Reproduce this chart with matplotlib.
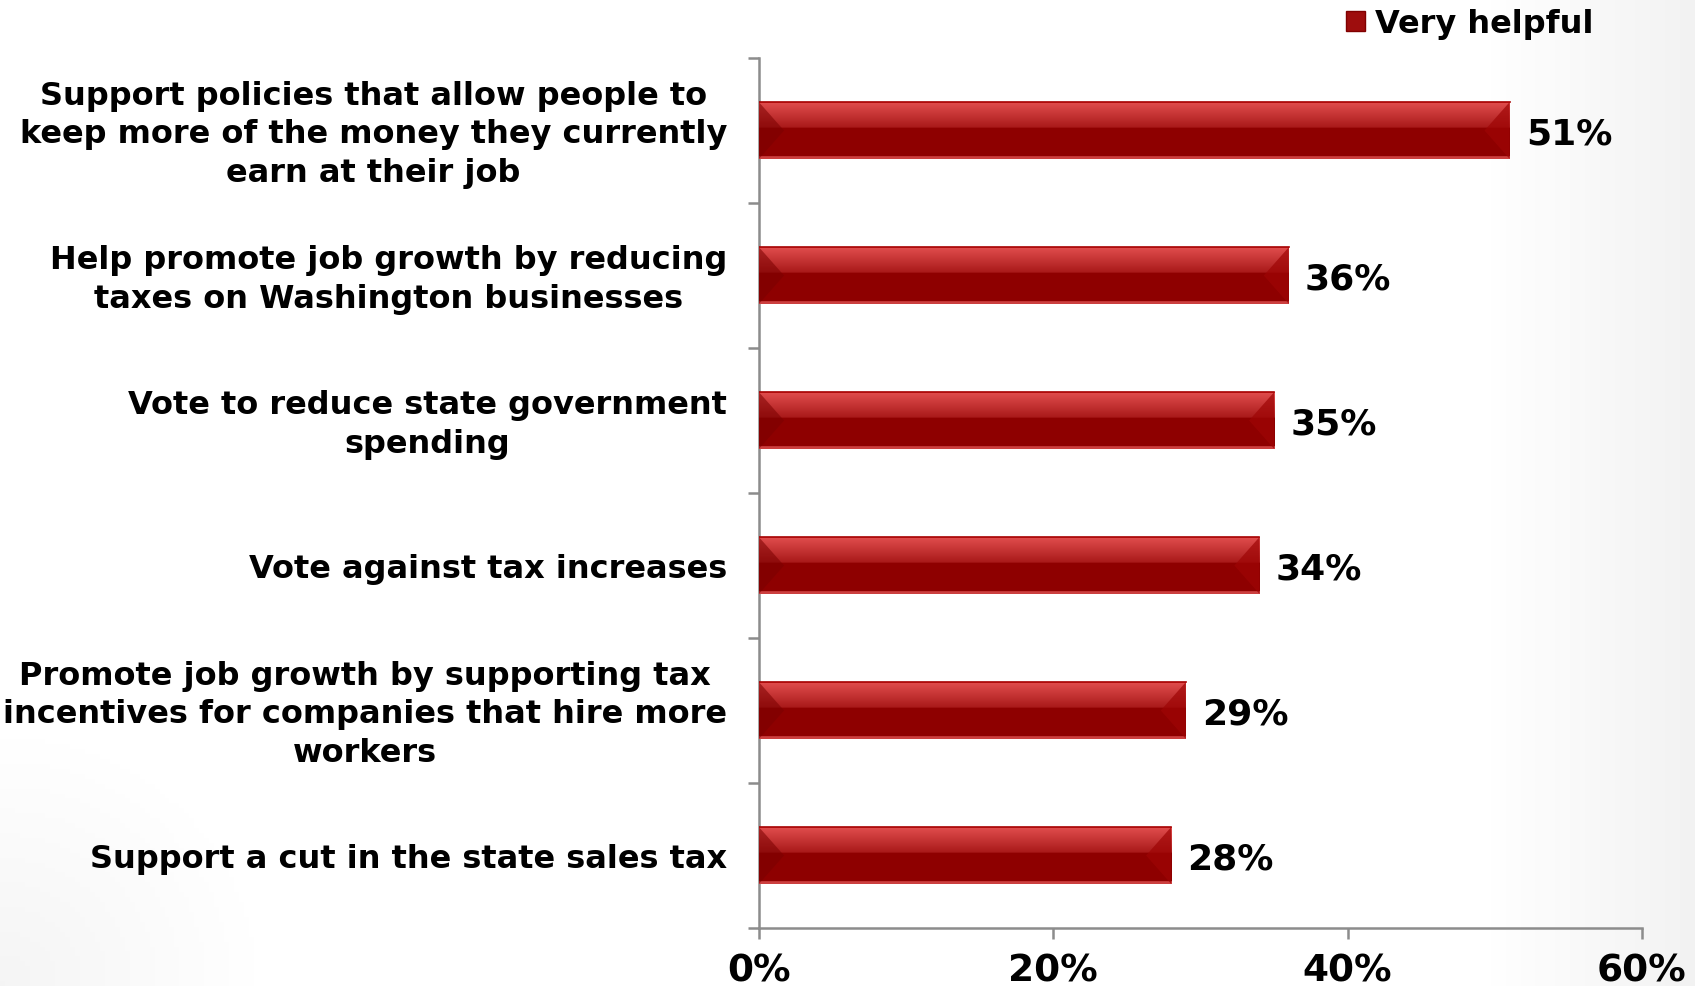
import numpy as np
import matplotlib
matplotlib.use("Agg")
import matplotlib.pyplot as plt
from matplotlib.patches import Polygon, Patch
from matplotlib.ticker import FixedLocator

# データ
categories = [
    "Support policies that allow people to\nkeep more of the money they currently\nearn at their job",
    "Help promote job growth by reducing\ntaxes on Washington businesses",
    "Vote to reduce state government\nspending",
    "Vote against tax increases",
    "Promote job growth by supporting tax\nincentives for companies that hire more\nworkers",
    "Support a cut in the state sales tax",
]
values = [51, 36, 35, 34, 29, 28]
series_name = "Very helpful"
x_ticks = [0, 20, 40, 60]

plt.rcParams["font.family"] = ["DejaVu Sans"]

W, H, DPI = 1695, 987, 100
fig = plt.figure(figsize=(W / DPI, H / DPI), dpi=DPI)

# 背景のうっすらしたグラデーション
bg = fig.add_axes([0, 0, 1, 1], zorder=-10)
yy, xx = np.mgrid[0:1:200j, 0:1:340j]
shade = np.clip((xx - 0.88) / 0.12, 0, 1) * 0.05
corner = np.clip(1 - np.hypot(xx / 0.15, (1 - yy) / 0.25), 0, 1) * 0.04
g = 1 - np.maximum(shade, corner)
bg.imshow(np.dstack([g, g, g]), extent=[0, 1, 0, 1], aspect="auto", origin="upper")
bg.axis("off")

ax = fig.add_axes([0.4478, 0.0588, 0.5209, 0.8814])
ax.patch.set_alpha(0)

n = len(values)
ypos = np.arange(n)
bar_h = 0.39

# バー本体（グラデーション）
top_col = np.array([0.88, 0.30, 0.30])
mid_col = np.array([0.66, 0.10, 0.10])
base_col = np.array([0.56, 0.0, 0.0])
bot_col = np.array([0.80, 0.25, 0.25])
rows = 60
grad = np.zeros((rows, 1, 3))
for i in range(rows):
    t = i / (rows - 1)
    if t < 0.45:
        c = top_col + (mid_col - top_col) * (t / 0.45)
    elif t < 0.95:
        c = base_col
    else:
        c = bot_col
    grad[i, 0] = c

bevel = 1.7
for y, v in zip(ypos, values):
    ax.imshow(grad, extent=[0, v, y + bar_h / 2, y - bar_h / 2],
              aspect="auto", origin="upper", zorder=3, interpolation="bilinear")
    # 左右の面取り
    ax.add_patch(Polygon([[0, y - bar_h / 2], [bevel, y], [0, y + bar_h / 2]],
                         closed=True, color=(0.48, 0.0, 0.0), alpha=0.55, lw=0, zorder=4))
    ax.add_patch(Polygon([[v, y - bar_h / 2], [v - bevel, y], [v, y + bar_h / 2]],
                         closed=True, color=(0.62, 0.02, 0.02), alpha=0.7, lw=0, zorder=4))
    ax.plot([0, v], [y - bar_h / 2, y - bar_h / 2], color=(0.65, 0.0, 0.0), lw=1.2, zorder=5)
    ax.text(v + 1.1, y + 0.02, f"{v}%", va="center", ha="left",
            fontsize=26, fontweight="bold", color="black", zorder=6)

ax.set_xlim(0, 60)
ax.set_ylim(n - 0.5, -0.5)

for s in ["top", "right"]:
    ax.spines[s].set_visible(False)
for s in ["left", "bottom"]:
    ax.spines[s].set_color("#8c8c8c")
    ax.spines[s].set_linewidth(1.8)

ax.set_xticks(x_ticks)
ax.set_xticklabels([f"{t}%" for t in x_ticks], fontsize=27, fontweight="bold")
ax.tick_params(axis="x", length=8, width=1.8, color="#8c8c8c", pad=10)

# 目盛りは長さ0なので、ラベルだけ少し下げる
ax.set_yticks(ypos + 0.024)
ax.set_yticklabels(categories, fontsize=23, fontweight="bold", va="center")
for lab in ax.get_yticklabels():
    lab.set_multialignment("center")
    lab.set_linespacing(1.33)
ax.tick_params(axis="y", which="major", length=0, pad=23)
ax.yaxis.set_minor_locator(FixedLocator(np.arange(n + 1) - 0.5))
ax.tick_params(axis="y", which="minor", length=8, width=1.8, color="#8c8c8c")

# 凡例
handle = Patch(facecolor=(0.62, 0.05, 0.05), edgecolor=(0.5, 0.0, 0.0))
fig.legend([handle], [series_name], loc="upper right", bbox_to_anchor=(0.957, 1.02),
           frameon=False, prop={"size": 23, "weight": "bold"},
           handlelength=0.6, handleheight=0.6, handletextpad=0.3)

fig.savefig("out.png", dpi=DPI)
